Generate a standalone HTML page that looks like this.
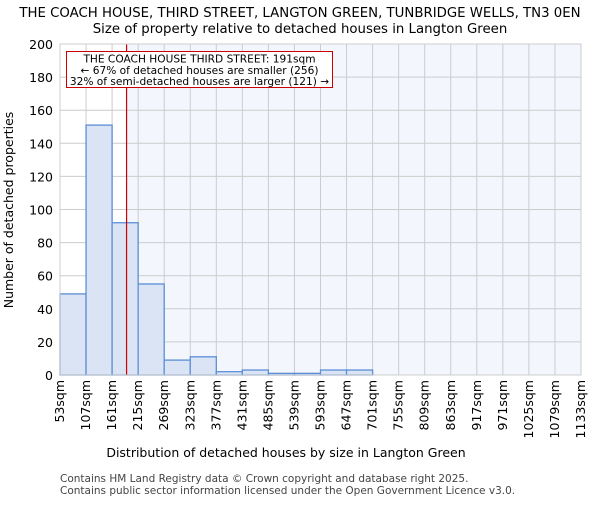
<!DOCTYPE html>
<html><head><meta charset="utf-8"><style>
body{margin:0;background:#fff;font-family:"Liberation Sans","DejaVu Sans",sans-serif;}
svg text{font-family:"DejaVu Sans","Liberation Sans",sans-serif;}
</style></head><body>
<svg id="c" width="600" height="500" xmlns="http://www.w3.org/2000/svg">
<text x="300" y="17" text-anchor="middle" font-size="13.3">THE COACH HOUSE, THIRD STREET, LANGTON GREEN, TUNBRIDGE WELLS, TN3 0EN</text>
<text x="300" y="33" text-anchor="middle" font-size="13.3">Size of property relative to detached houses in Langton Green</text>
<g id="plot"></g>
<text x="286" y="457" text-anchor="middle" font-size="12.5">Distribution of detached houses by size in Langton Green</text>
<text transform="translate(13,210) rotate(-90)" text-anchor="middle" font-size="12.5">Number of detached properties</text>
<text x="60" y="482" font-size="10.5" fill="#444">Contains HM Land Registry data © Crown copyright and database right 2025.</text>
<text x="60" y="494" font-size="10.5" fill="#444">Contains public sector information licensed under the Open Government Licence v3.0.</text>
</svg>
<script>
const binStarts=[53,107,161,215,269,323,377,431,485,539,593,647,701,755,809,863,917,971,1025,1079,1133];
const counts=[49,151,92,55,9,11,2,3,1,1,3,3,0,0,0,0,0,0,0,0];
const yTicks=[0,20,40,60,80,100,120,140,160,180,200];
const propertySize=191;
const NS="http://www.w3.org/2000/svg";
const L=60,R=581,T=44,B=375;
const xs=v=>L+(v-53)/(1133-53)*(R-L);
const ys=v=>B-v/200*(B-T);
const g=document.getElementById('plot');
function mk(t,a){const e=document.createElementNS(NS,t);for(const k in a)e.setAttribute(k,a[k]);g.appendChild(e);return e;}
const rx=xs(propertySize);
let e=mk('rect',{x:rx,y:T,width:R-rx,height:B-T,fill:'#f3f6fd'});


yTicks.forEach(v=>{const l=mk('line',{x1:L,x2:R,y1:ys(v),y2:ys(v),stroke:'#cccccc','stroke-width':1});


const t=mk('text',{x:L-7,y:ys(v)+5,'text-anchor':'end','font-size':12.5});t.textContent=v;

});
binStarts.forEach(v=>{const l=mk('line',{x1:xs(v),x2:xs(v),y1:T,y2:B,stroke:'#cccccc','stroke-width':1});


const x=xs(v)+4,t=mk('text',{x:x,y:380,'text-anchor':'end','font-size':12.5,transform:`rotate(-90 ${x} 380)`});t.textContent=v+'sqm';

});
counts.forEach((c,i)=>{if(c<=0)return;const x0=xs(binStarts[i]),x1=xs(binStarts[i+1]);
const r=mk('rect',{x:x0,y:ys(c),width:x1-x0,height:B-ys(c),fill:'#dae4f4',stroke:'#5b8fd6','stroke-width':1.3});

});
e=mk('line',{x1:rx,x2:rx,y1:T,y2:B,stroke:'#cc0000','stroke-width':1.2});


e=mk('rect',{x:66.5,y:51.5,width:266,height:36,fill:'#fff',stroke:'#cc0000','stroke-width':1});


['THE COACH HOUSE THIRD STREET: 191sqm','← 67% of detached houses are smaller (256)','32% of semi-detached houses are larger (121) →'].forEach((s,i)=>{
const t=mk('text',{x:199.5,y:62.5+i*11.3,'text-anchor':'middle','font-size':10.6});t.textContent=s;

});
e=mk('rect',{x:L,y:T,width:R-L,height:B-T,fill:'none',stroke:'#cccccc'});


</script>
</body></html>
